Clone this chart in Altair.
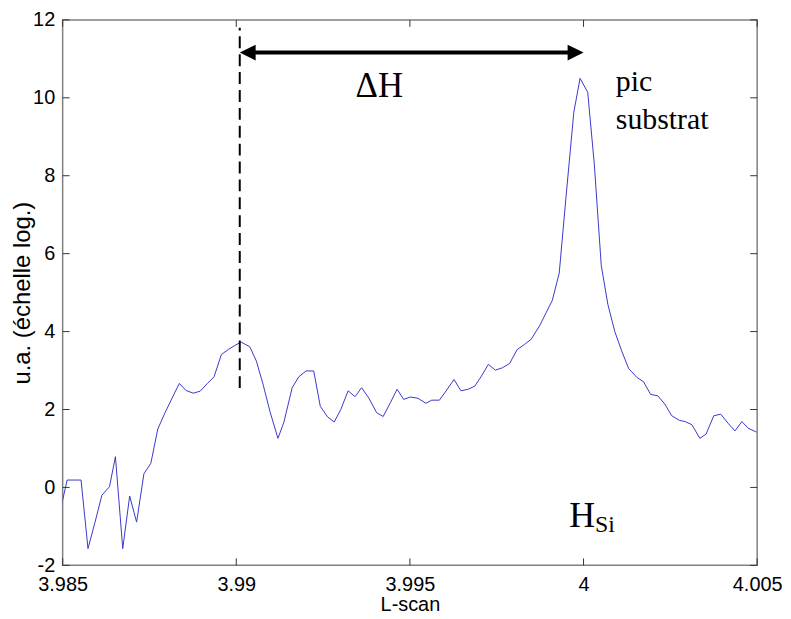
import altair as alt
import pandas as pd

# ---- data ----
L_scan = [
    3.98493, 3.98513, 3.98533, 3.98553, 3.98573, 3.98593, 3.98613, 3.98635, 3.98652, 3.98673,
    3.98693, 3.98713, 3.98734, 3.98754, 3.98774, 3.98795, 3.98815, 3.98836, 3.98855, 3.98876,
    3.98896, 3.98916, 3.98936, 3.98957, 3.98977, 3.98995, 3.99014,
    3.99039, 3.99058, 3.99077, 3.99097, 3.99120, 3.99137, 3.99161, 3.99180, 3.99201, 3.99223,
    3.99242, 3.99263, 3.99282, 3.99301, 3.99322, 3.99342, 3.99361, 3.99382, 3.99404, 3.99423,
    3.99444, 3.99463, 3.99482, 3.99501, 3.99523, 3.99546, 3.99563, 3.99585, 3.99606, 3.99627,
    3.99647, 3.99668, 3.99687, 3.99706, 3.99726, 3.99746, 3.99766, 3.99787, 3.99809, 3.99830,
    3.99849, 3.99873, 3.99892, 3.99910, 3.99930, 3.99950, 3.99972, 3.99990,
    4.00012, 4.00031, 4.00051, 4.00070, 4.00090, 4.00110, 4.00130, 4.00153, 4.00173, 4.00193,
    4.00214, 4.00234, 4.00254, 4.00276, 4.00293, 4.00312, 4.00335, 4.00353, 4.00375, 4.00395,
    4.00416, 4.00436, 4.00456, 4.00474, 4.00498,
]
intensity = [
    -0.6, 0.19, 0.19, 0.19, -1.57, -0.9, -0.2, 0.02, 0.79, -1.57,
    -0.22, -0.89, 0.35, 0.62, 1.5, 1.92, 2.29, 2.67, 2.49, 2.42,
    2.47, 2.66, 2.84, 3.41, 3.54, 3.64, 3.73,
    3.61, 3.24, 2.65, 1.95, 1.26, 1.67, 2.56, 2.84, 2.99, 2.99,
    2.08, 1.81, 1.68, 2.0, 2.48, 2.33, 2.56, 2.29, 1.92, 1.82,
    2.18, 2.52, 2.26, 2.32, 2.29, 2.16, 2.24, 2.24, 2.5, 2.77,
    2.48, 2.52, 2.6, 2.86, 3.16, 3.01, 3.07, 3.18, 3.54, 3.67,
    3.8, 4.14, 4.48, 4.8, 5.5, 7.5, 9.63, 10.5,
    10.14, 8.3, 5.7, 4.7, 4.0, 3.5, 3.05, 2.83, 2.71, 2.39,
    2.35, 2.14, 1.84, 1.72, 1.69, 1.61, 1.26, 1.37, 1.84, 1.88,
    1.65, 1.45, 1.69, 1.52, 1.42,
]

x_ticks = [3.985, 3.99, 3.995, 4.0, 4.005]
y_ticks = [-2, 0, 2, 4, 6, 8, 10, 12]

marker_L = [3.9901]          # dashed line position (left end of ΔH)
marker_y = [2.55]
marker_y2 = [11.8]
arrow_L = [3.9901, 4.0]      # ΔH arrow tips
arrow_y = [11.16, 11.16]

ann_dH = {"L": [3.99412], "v": [10.01], "t": ["ΔH"]}
ann_pic = {"L": [4.00093, 4.00093], "v": [10.17, 9.21], "t": ["pic", "substrat"]}
ann_H = {"L": [3.99959], "v": [-1.01], "t": ["H"]}
ann_Si = {"L": [4.00033], "v": [-1.14], "t": ["Si"]}

W, H = 699, 549
SANS = "Liberation Sans"
SERIF = "Liberation Serif"
X_TITLE = "L-scan"
Y_TITLE = "u.a. (échelle log.)"

xs = alt.Scale(domain=[3.985, 4.005], nice=False, zero=False)
ys = alt.Scale(domain=[-2, 12], nice=False, zero=False)

ax_x = alt.Axis(
    values=x_ticks, labelExpr="'' + datum.value",
    ticks=False, domain=False, grid=False, labelFont=SANS, labelFontSize=20,
    labelColor="black", labelPadding=9, labelFlush=False,
    titleFont=SANS, titleFontSize=20, titleFontWeight="normal", titleColor="black",
    titleY=45, titleBaseline="alphabetic")
ax_y = alt.Axis(
    values=y_ticks, labelExpr="'' + datum.value",
    ticks=False, domain=False, grid=False, labelFont=SANS, labelFontSize=20,
    labelColor="black", labelPadding=8, labelFlush=False,
    titleFont=SANS, titleFontSize=24, titleFontWeight="normal", titleColor="black",
    titleX=-33, titleBaseline="alphabetic")


def X(field):
    return alt.X(field, scale=xs, axis=ax_x, title=X_TITLE)


def Y(field):
    return alt.Y(field, scale=ys, axis=ax_y, title=Y_TITLE)


df = pd.DataFrame({"L": L_scan, "v": intensity})

line = alt.Chart(df).mark_line(color="#3838cc", strokeWidth=1, clip=True).encode(
    x=X("L:Q"), y=Y("v:Q"))

xt = pd.DataFrame({"t": x_ticks})
yt = pd.DataFrame({"t": y_ticks})
tick_style = dict(color="#333333", strokeWidth=1)
tick_bottom = alt.Chart(xt).mark_rule(**tick_style).encode(
    x=X("t:Q"), y=alt.value(H), y2=alt.value(H - 7))
tick_top = alt.Chart(xt).mark_rule(**tick_style).encode(
    x=X("t:Q"), y=alt.value(0), y2=alt.value(7))
tick_left = alt.Chart(yt).mark_rule(**tick_style).encode(
    y=Y("t:Q"), x=alt.value(0), x2=alt.value(7))
tick_right = alt.Chart(yt).mark_rule(**tick_style).encode(
    y=Y("t:Q"), x=alt.value(W), x2=alt.value(W - 7))

dash = alt.Chart(pd.DataFrame({"L": marker_L, "a": marker_y, "b": marker_y2})).mark_rule(
    color="black", strokeWidth=2, strokeDash=[12, 6]).encode(
    x=X("L:Q"), y=Y("a:Q"), y2="b:Q")

shaft = alt.Chart(pd.DataFrame({"a": [arrow_L[0] + 0.0002], "b": [arrow_L[1] - 0.0002],
                                "v": [arrow_y[0]]})).mark_rule(
    color="black", strokeWidth=4).encode(
    x=X("a:Q"), x2="b:Q", y=Y("v:Q"))

head_l = alt.Chart(pd.DataFrame({"L": [arrow_L[0]], "v": [arrow_y[0]]})).mark_point(
    shape="M0,0L2,-1L2,1Z", filled=True, size=256, color="black", opacity=1, strokeWidth=0).encode(
    x=X("L:Q"), y=Y("v:Q"))
head_r = alt.Chart(pd.DataFrame({"L": [arrow_L[1]], "v": [arrow_y[1]]})).mark_point(
    shape="M0,0L-2,-1L-2,1Z", filled=True, size=256, color="black", opacity=1, strokeWidth=0).encode(
    x=X("L:Q"), y=Y("v:Q"))


def text_layer(d, size, align):
    return alt.Chart(pd.DataFrame(d)).mark_text(
        font=SERIF, fontSize=size, align=align, baseline="alphabetic", color="black").encode(
        x=X("L:Q"), y=Y("v:Q"), text="t:N")


t_dH = text_layer(ann_dH, 35, "center")
t_pic = text_layer(ann_pic, 30, "left")
t_H = text_layer(ann_H, 36, "left")
t_Si = text_layer(ann_Si, 24, "left")

chart = alt.layer(
    line, tick_bottom, tick_top, tick_left, tick_right, dash, shaft, head_l, head_r,
    t_dH, t_pic, t_H, t_Si,
).properties(
    width=W, height=H,
    autosize=alt.AutoSizeParams(type="none"),
    padding={"left": 55, "top": 10, "right": 26, "bottom": 48},
    background="white",
).configure_view(stroke="#808080", strokeWidth=1.5)

chart.save("out.html", embed_options={"renderer": "svg", "actions": False})
